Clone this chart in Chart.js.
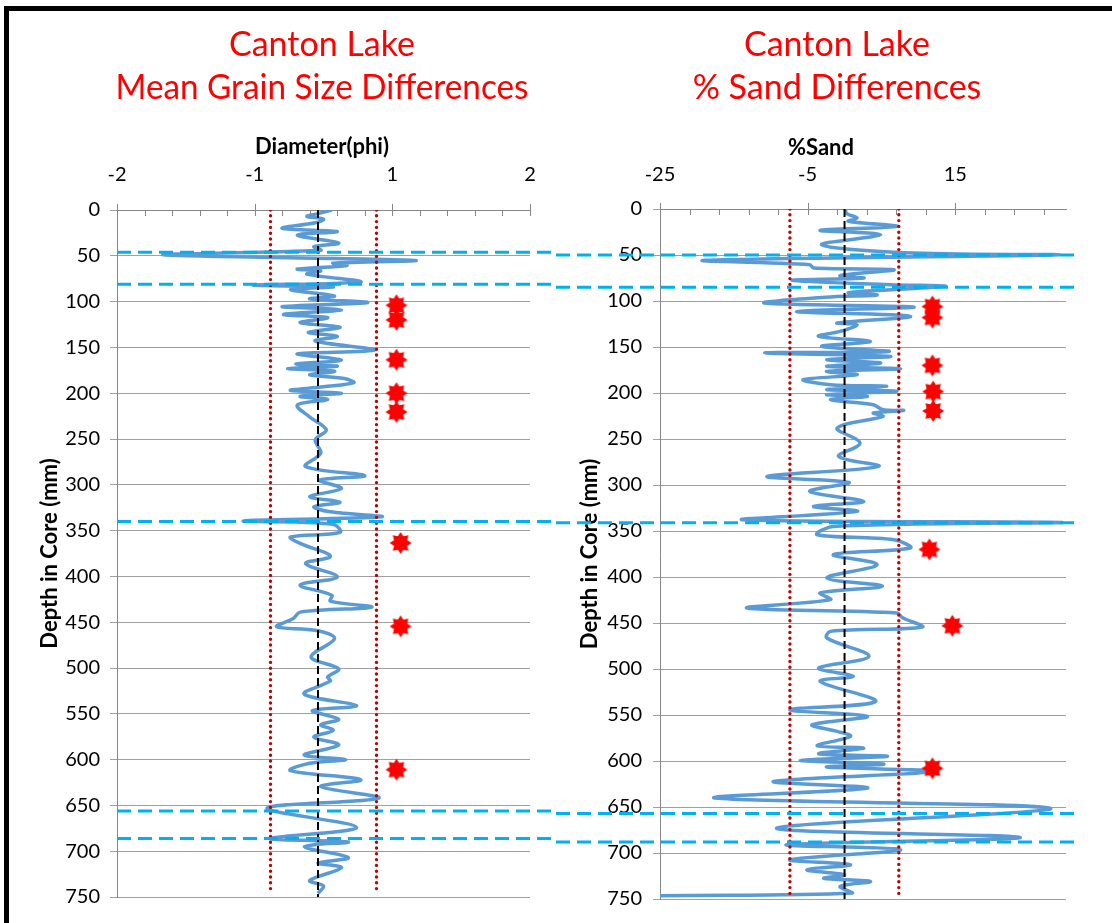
<!DOCTYPE html>
<html><head><meta charset="utf-8">
<script src="https://cdn.jsdelivr.net/npm/chart.js@4.4.1/dist/chart.umd.min.js"></script>
<style>
html,body{margin:0;padding:0;background:#fff;width:1112px;height:923px;overflow:hidden;}
#frame{position:absolute;left:4px;top:6px;width:1200px;height:1000px;border-top:5px solid #000;border-left:5px solid #000;}
.wrap{position:absolute;top:0;width:556px;height:923px;}
</style></head><body>
<div id="frame"></div>
<div class="wrap" style="left:0"><canvas id="c1"></canvas></div>
<div class="wrap" style="left:556px"><canvas id="c2"></canvas></div>
<script>
// ---------------- DATA ----------------
const leftTitle = ['Canton Lake', 'Mean Grain Size Differences'];
const rightTitle = ['Canton Lake', '% Sand Differences'];
const leftXTitle = 'Diameter(phi)';
const rightXTitle = '%Sand';
const yTitle = 'Depth in Core (mm)';

const leftTickValues = [-1.5, -0.5, 0.5, 1.5];
const leftTickLabels = ['-2', '-1', '1', '2'];
const rightTickValues = [-25, -5, 15];
const rightTickLabels = ['-25', '-5', '15'];

const leftDepth = [0,4,7,10,14,20,23.5,27.5,36,40,44,49,55,58,60.5,64.5,66.5,70,78.5,82,84,87,94,97,101,105.5,109,114,117.5,123,128,133.5,138,143,153,157,164,168,170.5,173,176,180,184,188.5,193,197,200,203.5,207,213,226,240,251,265.5,280,290,295,304,313,319,324,329.5,335,339.5,343,352,357,364,378,386,400.5,409.5,420.5,427,433.5,439,446,455,459,468,488,501,510,514,528.5,541,546.5,556,562,568,575.5,584,595,600,604,612,622,629.5,642,653,674,686,690,695,707,713,718,732,738,746];
const leftPhi = [0.06,-0.04,-0.12,0.0,-0.06,-0.30,0.10,-0.19,0.11,-0.07,-0.02,-1.16,0.66,0.07,0.17,-0.19,-0.02,-0.12,0.27,-0.51,0.07,-0.24,0.08,-0.10,0.32,-0.30,0.13,-0.29,0.03,-0.17,0.12,-0.11,0.10,-0.06,0.37,-0.19,0.13,-0.20,0.10,-0.26,0.08,-0.10,0.15,0.22,0.00,-0.24,0.13,-0.17,0.03,-0.19,-0.10,0.02,-0.06,-0.02,-0.13,0.30,-0.03,0.13,-0.10,0.12,-0.07,0.05,0.42,-0.58,0.07,0.12,-0.24,-0.17,0.05,-0.13,0.10,-0.17,0.06,0.05,0.35,-0.17,-0.22,-0.34,-0.05,0.08,-0.09,0.11,0.03,0.05,-0.14,0.24,-0.08,0.11,-0.02,0.07,-0.07,0.11,-0.14,0.16,-0.10,-0.24,0.27,-0.02,0.40,-0.41,0.24,-0.39,0.18,-0.14,0.18,-0.04,0.13,-0.10,0.00,-0.04];

const rightDepth = [0.8,5,9.8,13.4,18.9,23.2,27.9,38.8,47.9,49.8,55.8,60.5,64.2,66,72.5,75,77.6,82.3,84,88,91,93.5,96,102.2,106.6,111.3,116.7,124,125.8,133,138.4,143.9,149.3,154.8,156.5,160.2,163.8,167.4,171,173.6,176.5,180.1,185.5,191,192.8,196.4,198.2,201.8,203.6,207.3,212.7,218.2,218.9,221.8,225.4,238.1,254.4,268.9,279.8,290.7,297.2,307,317.8,323.3,328.7,337.8,340.7,345,354.1,359.5,368.5,375.7,386.6,401,410,417.4,424.6,433.7,439.1,444,454.4,459.1,466.3,486.3,499,508,513.5,535.2,544.3,551.5,560.6,567.8,573.2,583.4,585.9,592.1,595,599.3,603.3,606.6,611.3,622.2,629.4,640.3,651.5,672.9,683,691,696.5,707.4,712.8,718.3,723.7,727.5,731,736.4,743.6,746.5];
const rightSand = [0.1,0.3,1.7,0.5,7.1,-3.3,4.9,-3.1,9.4,29.0,-18.9,-4.7,-4.2,6.7,-0.6,2.6,-7.1,6.2,13.7,5.7,0.5,4.4,-2.6,-10.8,9.4,-6.5,8.9,-1.0,1.7,-0.6,-3.5,3.5,-3.1,6.0,-10.8,6.2,-2.4,4.9,-2.4,7.6,-2.4,1.7,-5.6,-1.9,5.7,-2.4,7.1,-2.4,3.1,-1.9,3.9,5.2,8.0,3.9,5.2,-1.0,2.1,-0.8,4.6,-10.5,0.6,-4.7,2.6,-4.2,1.7,-13.7,29.5,-1.5,-3.7,6.7,8.9,-1.5,4.4,-2.4,5.1,-3.3,-1.9,-13.2,7.1,7.8,10.5,-1.9,-2.4,3.3,-3.5,1.2,-3.3,4.2,-7.4,3.1,-4.4,-1.0,0.8,-3.7,2.6,-3.5,5.8,-6.0,5.3,-2.4,12.5,-9.6,3.1,-17.5,27.9,-9.2,23.8,-7.8,7.6,-7.4,0.8,-5.1,0.0,-2.8,3.5,-0.6,1.0,-25.0];

const limitDepths = [0, 745];
const meanDepths = [0, 750];
const leftLimits = [-0.385, 0.385];
const leftMean = -0.04;
const rightLimits = [-7.4, 7.35];
const rightMean = 0;

const leftStarDepth = [104,120,163.5,200,220.5,363.5,454.5,611];
const leftStarPhi = [0.53,0.53,0.53,0.53,0.53,0.56,0.56,0.53];
const rightStarDepth = [106,118,170,198.5,219.5,370,453,608];
const rightStarSand = [11.9,11.9,11.9,12.0,12.0,11.5,14.6,11.9];

const cyanDepthsLeft = [46, 81, 340, 656, 686];
const cyanDepthsRight = [50, 85, 341, 657, 688];

// ---------------- HELPERS ----------------
function makeStar(R, r, n, color) {
  const s = Math.ceil(R * 2 + 2);
  const c = document.createElement('canvas');
  c.width = s; c.height = s;
  const g = c.getContext('2d');
  g.fillStyle = color;
  g.beginPath();
  for (let i = 0; i < 2 * n; i++) {
    const a = -Math.PI / 2 + i * Math.PI / n;
    const rr = (i % 2) ? r : R;
    g.lineTo(s / 2 + rr * Math.cos(a), s / 2 + rr * Math.sin(a));
  }
  g.closePath(); g.fill();
  return c;
}
const starImg = makeStar(11, 7.2, 8, '#FF0000');

const decor = {
  id: 'decor',
  afterLayout(chart, args, o) {
    const t = chart.titleBlock;
    if (t && o.titleCenter != null) {
      const w = t.right - t.left;
      t.left = o.titleCenter - w / 2; t.right = t.left + w;
    }
    const sx = chart.scales.x;
    if (o.axisTitleCenter != null && !sx._patched) {
      const orig = sx.drawTitle;
      sx.drawTitle = function () {
        const l = this.left, r = this.right, w = r - l;
        this.left = o.axisTitleCenter - w / 2; this.right = this.left + w;
        orig.call(this);
        this.left = l; this.right = r;
      };
      sx._patched = true;
    }
  },
  afterDatasetsDraw(chart, args, o) {
    const ctx = chart.ctx, sx = chart.scales.x, a = chart.chartArea;
    ctx.save();
    ctx.strokeStyle = '#868686'; ctx.lineWidth = 1;
    ctx.beginPath();
    for (let k = 0; sx.min + k * o.minorStep <= sx.max + 1e-9; k++) {
      const x = Math.round(sx.getPixelForValue(sx.min + k * o.minorStep)) + 0.5;
      ctx.moveTo(x, a.top); ctx.lineTo(x, a.top + 6);
    }
    sx.ticks.forEach(t => {
      const x = Math.round(sx.getPixelForValue(t.value)) + 0.5;
      ctx.moveTo(x, a.top - 6); ctx.lineTo(x, a.top + 6);
    });
    ctx.stroke();
    ctx.restore();
  },
  afterDraw(chart, args, o) {
    const ctx = chart.ctx, sy = chart.scales.y, a = chart.chartArea;
    ctx.save();
    ctx.strokeStyle = '#00B0F0'; ctx.lineWidth = 3; ctx.setLineDash([14, 7]);
    const x0 = o.cyanFromArea ? a.left : 0;
    o.cyanDepths.forEach(d => {
      const y = sy.getPixelForValue(d);
      ctx.beginPath(); ctx.moveTo(x0, y); ctx.lineTo(o.cyanTo, y); ctx.stroke();
    });
    ctx.restore();
  }
};

const FONT = 'Lato';
function build(id, cfg) {
  const pts = (xs, ys) => ys.map((y, i) => ({x: xs[i], y: y}));
  const vline = (v, ds) => ds.map(d => ({x: v, y: d}));
  return new Chart(document.getElementById(id), {
    type: 'scatter',
    data: {
      datasets: [
        {data: pts(cfg.starX, cfg.starD), pointStyle: starImg, pointRadius: 10, showLine: false, order: 1},
        {data: vline(cfg.mean, meanDepths), showLine: true, borderColor: '#000', borderWidth: 2, borderDash: [8, 4], pointRadius: 0, order: 2},
        {data: vline(cfg.limits[0], limitDepths), showLine: true, borderColor: '#C00000', borderWidth: 3.4, borderDash: [0, 5.8], borderCapStyle: 'round', pointRadius: 0, order: 3},
        {data: vline(cfg.limits[1], limitDepths), showLine: true, borderColor: '#C00000', borderWidth: 3.4, borderDash: [0, 5.8], borderCapStyle: 'round', pointRadius: 0, order: 3},
        {data: pts(cfg.vals, cfg.depth), showLine: true, borderColor: '#5B9BD5', borderWidth: 3.5, tension: 0.35, pointRadius: 0, order: 4}
      ]
    },
    options: {
      responsive: true, maintainAspectRatio: false, animation: false, devicePixelRatio: 1,
      layout: {padding: cfg.padding},
      plugins: {
        legend: {display: false}, tooltip: {enabled: false},
        title: {display: true, text: cfg.title, color: '#FF0000', fullSize: false,
          font: {family: FONT, size: 34, weight: 'normal', lineHeight: '43px'}, padding: {top: 24, bottom: 0}},
        decor: cfg.decor
      },
      scales: {
        x: {
          type: 'linear', position: 'top', min: cfg.min, max: cfg.max,
          afterFit: s => { s.height = cfg.xHeight; },
          afterBuildTicks: s => { s.ticks = cfg.tickValues.map(v => ({value: v})); },
          ticks: {color: '#000', font: {family: FONT, size: 20}, padding: cfg.xTickPad, maxRotation: 0,
            callback: (v, i) => cfg.tickLabels[i]},
          grid: {display: false},
          border: {display: true, color: '#868686', width: 1},
          title: {display: true, text: cfg.xTitle, color: '#000', font: {family: FONT, size: 22, weight: 'bold', lineHeight: '26px'}, padding: {top: cfg.xTitlePad, bottom: 0}}
        },
        y: {
          type: 'linear', position: 'left', reverse: true, min: 0, max: 750,
          afterFit: s => { s.width = cfg.yWidth; },
          ticks: {stepSize: 50, color: '#000', font: {family: FONT, size: 20}, padding: cfg.yTickPad},
          grid: {color: '#A0A0A0', lineWidth: 1, tickLength: 7, drawTicks: true},
          border: {display: true, color: '#868686', width: 1},
          title: {display: true, text: yTitle, color: '#000', font: {family: FONT, size: 22, weight: 'bold', lineHeight: '26px'}, padding: {top: cfg.yTitlePad, bottom: 0}}
        }
      }
    },
    plugins: [decor]
  });
}

build('c1', {
  title: leftTitle, xTitle: leftXTitle, min: -1.5, max: 1.5,
  tickValues: leftTickValues, tickLabels: leftTickLabels,
  depth: leftDepth, vals: leftPhi, starD: leftStarDepth, starX: leftStarPhi,
  limits: leftLimits, mean: leftMean,
  padding: {left: 0, right: 26, top: 0, bottom: 26},
  xHeight: 100, xTickPad: 15, xTitlePad: 24, yWidth: 117, yTickPad: 10, yTitlePad: 37,
  decor: {titleCenter: 322, axisTitleCenter: 322, minorStep: 0.2, cyanDepths: cyanDepthsLeft, cyanFromArea: true, cyanTo: 556}
});
build('c2', {
  title: rightTitle, xTitle: rightXTitle, min: -25, max: 30,
  tickValues: rightTickValues, tickLabels: rightTickLabels,
  depth: rightDepth, vals: rightSand, starD: rightStarDepth, starX: rightStarSand,
  limits: rightLimits, mean: rightMean,
  padding: {left: 0, right: 46, top: 0, bottom: 24},
  xHeight: 99, xTickPad: 14, xTitlePad: 25, yWidth: 104, yTickPad: 11, yTitlePad: 21,
  decor: {titleCenter: 281, axisTitleCenter: 265, minorStep: 4, cyanDepths: cyanDepthsRight, cyanFromArea: false, cyanTo: 519}
});
</script>
</body></html>
